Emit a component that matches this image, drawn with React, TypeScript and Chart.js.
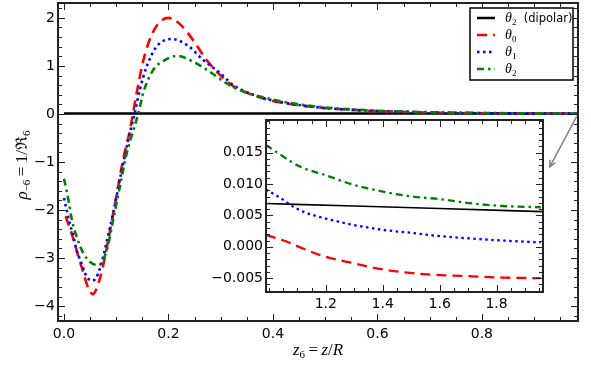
import React, { useEffect, useRef } from "react";
import { Chart, registerables } from "chart.js";
Chart.register(...registerables);

// ---------------- main panel data ----------------
const dipolarX = [0, 0.2, 0.4, 0.6, 0.8, 0.985];
const dipolarY = [0.01, 0.01, 0.009, 0.008, 0.008, 0.007];

const theta0X = [0.003, 0.015, 0.027, 0.037, 0.045, 0.055, 0.063, 0.075, 0.086, 0.098, 0.113, 0.126, 0.139, 0.152, 0.171, 0.2, 0.222, 0.247, 0.273, 0.299, 0.324, 0.36, 0.4, 0.45, 0.5, 0.55, 0.6, 0.7, 0.8, 0.9, 0.985];
const theta0Y = [-2.13, -2.5, -2.95, -3.3, -3.58, -3.75, -3.62, -3.15, -2.55, -1.85, -0.96, -0.35, 0.43, 1.12, 1.72, 2.0, 1.87, 1.54, 1.12, 0.81, 0.58, 0.4, 0.27, 0.18, 0.12, 0.085, 0.06, 0.03, 0.015, 0.008, 0.004];

const theta1X = [0.0, 0.005, 0.011, 0.018, 0.024, 0.034, 0.043, 0.055, 0.065, 0.075, 0.085, 0.094, 0.11, 0.126, 0.135, 0.145, 0.158, 0.177, 0.206, 0.235, 0.267, 0.299, 0.324, 0.36, 0.4, 0.45, 0.5, 0.55, 0.6, 0.7, 0.8, 0.9, 0.985];
const theta1Y = [-1.75, -2.0, -2.28, -2.55, -2.83, -3.12, -3.38, -3.47, -3.33, -2.97, -2.5, -2.07, -1.2, -0.4, 0.0, 0.5, 0.98, 1.4, 1.56, 1.44, 1.12, 0.85, 0.6, 0.41, 0.28, 0.185, 0.125, 0.088, 0.062, 0.032, 0.017, 0.01, 0.006];

const theta2X = [0.0, 0.005, 0.009, 0.015, 0.024, 0.037, 0.05, 0.066, 0.082, 0.094, 0.107, 0.12, 0.133, 0.142, 0.152, 0.171, 0.193, 0.216, 0.247, 0.279, 0.311, 0.34, 0.4, 0.45, 0.5, 0.55, 0.6, 0.7, 0.8, 0.9, 0.985];
const theta2Y = [-1.35, -1.6, -1.82, -2.2, -2.55, -2.9, -3.08, -3.15, -2.83, -2.21, -1.51, -0.82, -0.33, 0.0, 0.45, 0.92, 1.12, 1.21, 1.09, 0.88, 0.64, 0.48, 0.3, 0.2, 0.135, 0.095, 0.068, 0.036, 0.02, 0.013, 0.008];

const mainXTicks = [0, 0.2, 0.4, 0.6, 0.8];
const mainYTicks = [-4, -3, -2, -1, 0, 1, 2];
const mainXMinorStep = 0.05;
const mainYMinorStep = 0.2;
const mainXRange = [-0.0115, 0.984];
const mainYRange = [-4.31, 2.31];

// arrow pointing to the inset (data coordinates of main panel)
const arrowFrom = { x: 0.982, y: -0.04 };
const arrowTo = { x: 0.93, y: -1.1 };

// ---------------- inset data ----------------
const insetDipolarX = [0.99, 1.3, 1.6, 1.963];
const insetDipolarY = [0.0069, 0.0065, 0.0061, 0.0056];
const insetTheta0X = [0.99, 1.064, 1.132, 1.2, 1.296, 1.4, 1.505, 1.6, 1.716, 1.82, 1.955];
const insetTheta0Y = [0.0019, 0.0008, -0.0005, -0.0016, -0.0026, -0.0036, -0.0042, -0.0045, -0.0047, -0.0049, -0.005];
const insetTheta1X = [0.99, 1.044, 1.085, 1.132, 1.2, 1.296, 1.4, 1.505, 1.6, 1.716, 1.82, 1.955];
const insetTheta1Y = [0.0091, 0.0077, 0.0064, 0.0054, 0.0045, 0.0035, 0.0027, 0.0022, 0.0017, 0.0013, 0.001, 0.0007];
const insetTheta2X = [0.99, 1.109, 1.2, 1.296, 1.4, 1.505, 1.6, 1.716, 1.82, 1.955];
const insetTheta2Y = [0.0162, 0.0128, 0.0114, 0.0099, 0.0088, 0.008, 0.0076, 0.0069, 0.0065, 0.0063];

const insetXTicks = [1.2, 1.4, 1.6, 1.8];
const insetYTicks = [-0.005, 0, 0.005, 0.01, 0.015];
const insetXMinorStep = 0.05;
const insetYMinorStep = 0.001;
const insetXRange = [0.99, 1.963];
const insetYRange = [-0.0072, 0.0202];

// ---------------- legend ----------------
const legendSubs = ["2", "0", "1", "2"];
const legendExtra = ["  (dipolar)", "", "", ""];

// ---------------- styles ----------------
const FRAME = "#222";
const TICK_FONT = "DejaVu Sans";
const RED = "#ff0000";
const BLUE = "#0000ff";
const GREEN = "#008000";
const DASH_RED = [10, 6];
const DASH_BLUE = [2.5, 3.5];
const DASH_GREEN = [7, 4, 2.5, 4];

const pts = (xs: number[], ys: number[]) => xs.map((x, i) => ({ x, y: ys[i] }));
const minus = (s: string) => s.replace("-", "\u2212");

function lineDs(label: string, xs: number[], ys: number[], color: string, width: number, dash: number[], order: number) {
  return {
    label,
    data: pts(xs, ys),
    borderColor: color,
    backgroundColor: color,
    borderWidth: width,
    borderDash: dash,
    borderCapStyle: "butt",
    pointRadius: 0,
    fill: false,
    cubicInterpolationMode: "monotone",
    order,
  };
}

type Run = { t: string; font: string; dy?: number };
function drawRuns(ctx: CanvasRenderingContext2D, runs: Run[], x: number, y: number, align: "left" | "center") {
  const widths = runs.map((r) => {
    ctx.font = r.font;
    return ctx.measureText(r.t).width;
  });
  const total = widths.reduce((a, b) => a + b, 0);
  let cx = align === "center" ? x - total / 2 : x;
  ctx.textBaseline = "alphabetic";
  ctx.textAlign = "left";
  runs.forEach((r, i) => {
    ctx.font = r.font;
    ctx.fillText(r.t, cx, y + (r.dy || 0));
    cx += widths[i];
  });
}

function minors(min: number, max: number, step: number, majors: number[]) {
  const out: number[] = [];
  for (let k = Math.ceil(min / step - 1e-9); k * step <= max + 1e-9; k++) {
    const v = k * step;
    if (!majors.some((m) => Math.abs(m - v) < step * 0.01)) out.push(v);
  }
  return out;
}

function frameTicksPlugin(cfg: {
  xMajor: number[]; xStep: number; yMajor: number[]; yStep: number; fill: boolean; frameWidth: number;
}) {
  return {
    id: "frameTicks",
    beforeDraw(chart: any) {
      if (!cfg.fill) return;
      const { ctx, chartArea: a } = chart;
      ctx.save();
      ctx.fillStyle = "#fff";
      ctx.fillRect(a.left, a.top, a.right - a.left, a.bottom - a.top);
      ctx.restore();
    },
    afterDatasetsDraw(chart: any) {
      const { ctx, chartArea: a, scales } = chart;
      const xs = scales.x;
      const ys = scales.y;
      ctx.save();
      ctx.strokeStyle = FRAME;
      ctx.lineWidth = 1;
      const drawX = (vals: number[], len: number) => {
        vals.forEach((v) => {
          const p = Math.round(xs.getPixelForValue(v)) + 0.5;
          ctx.moveTo(p, a.bottom);
          ctx.lineTo(p, a.bottom - len);
          ctx.moveTo(p, a.top);
          ctx.lineTo(p, a.top + len);
        });
      };
      const drawY = (vals: number[], len: number) => {
        vals.forEach((v) => {
          const p = Math.round(ys.getPixelForValue(v)) + 0.5;
          ctx.moveTo(a.left, p);
          ctx.lineTo(a.left + len, p);
          ctx.moveTo(a.right, p);
          ctx.lineTo(a.right - len, p);
        });
      };
      ctx.beginPath();
      drawX(cfg.xMajor, 7);
      drawX(minors(xs.min, xs.max, cfg.xStep, cfg.xMajor), 4);
      drawY(cfg.yMajor, 7);
      drawY(minors(ys.min, ys.max, cfg.yStep, cfg.yMajor), 4);
      ctx.stroke();
      ctx.lineWidth = cfg.frameWidth;
      ctx.strokeRect(a.left, a.top, a.right - a.left, a.bottom - a.top);
      ctx.restore();
    },
  };
}

const mathIt = (s: number) => `italic ${s}px "Liberation Serif", "DejaVu Serif", serif`;
const mathRm = (s: number) => `${s}px "Liberation Serif", "DejaVu Serif", serif`;

const mainDecorPlugin = {
  id: "mainDecor",
  afterDraw(chart: any) {
    const { ctx, chartArea: a, scales } = chart;
    ctx.save();
    ctx.fillStyle = "#000";
    // x title
    drawRuns(
      ctx,
      [
        { t: "z", font: mathIt(17) },
        { t: "6", font: mathRm(11), dy: 3 },
        { t: "\u2009=\u2009", font: mathRm(17) },
        { t: "z", font: mathIt(17) },
        { t: "/", font: mathRm(17) },
        { t: "R", font: mathIt(17) },
      ],
      (a.left + a.right) / 2,
      a.bottom + 34,
      "center"
    );
    // y title (rotated)
    ctx.save();
    ctx.translate(22, (a.top + a.bottom) / 2 + 3);
    ctx.rotate(-Math.PI / 2);
    drawRuns(
      ctx,
      [
        { t: "\u03c1", font: mathIt(17) },
        { t: "\u22126", font: mathRm(11), dy: 3 },
        { t: "\u2009=\u2009", font: mathRm(17) },
        { t: "1/", font: mathRm(17) },
        { t: "\u211c", font: `16px "DejaVu Serif", serif` },
        { t: "6", font: mathRm(11), dy: 3 },
      ],
      0,
      5,
      "center"
    );
    ctx.restore();

    // arrow
    const x1 = scales.x.getPixelForValue(arrowFrom.x);
    const y1 = scales.y.getPixelForValue(arrowFrom.y);
    const x2 = scales.x.getPixelForValue(arrowTo.x);
    const y2 = scales.y.getPixelForValue(arrowTo.y);
    const ang = Math.atan2(y2 - y1, x2 - x1);
    ctx.strokeStyle = "#888";
    ctx.lineWidth = 1.6;
    ctx.beginPath();
    ctx.moveTo(x1, y1);
    ctx.lineTo(x2, y2);
    ctx.moveTo(x2 - 7 * Math.cos(ang - 0.45), y2 - 7 * Math.sin(ang - 0.45));
    ctx.lineTo(x2, y2);
    ctx.lineTo(x2 - 7 * Math.cos(ang + 0.45), y2 - 7 * Math.sin(ang + 0.45));
    ctx.stroke();

    // legend
    const bw = 103;
    const bh = 72;
    const bx = a.right - 5 - bw;
    const by = a.top + 5;
    ctx.fillStyle = "#fff";
    ctx.fillRect(bx, by, bw, bh);
    ctx.strokeStyle = "#000";
    ctx.lineWidth = 1.5;
    ctx.strokeRect(bx, by, bw, bh);
    const ds = chart.data.datasets;
    for (let i = 0; i < 4; i++) {
      const d = ds[i];
      const ry = by + 10 + i * 17;
      ctx.save();
      ctx.strokeStyle = d.borderColor;
      ctx.lineWidth = d.borderWidth;
      ctx.setLineDash(d.borderDash || []);
      ctx.beginPath();
      ctx.moveTo(bx + 7, ry);
      ctx.lineTo(bx + 25, ry);
      ctx.stroke();
      ctx.restore();
      ctx.fillStyle = "#000";
      drawRuns(
        ctx,
        [
          { t: "\u03b8", font: mathIt(14) },
          { t: legendSubs[i], font: mathRm(9), dy: 3 },
          { t: legendExtra[i], font: `11.5px "${TICK_FONT}"` },
        ],
        bx + 35,
        ry + 4,
        "left"
      );
    }
    ctx.restore();
  },
};

function axisCfg(range: number[], ticks: number[], fmt: (v: number) => string, size: number, padding: number, isX: boolean) {
  return {
    type: "linear",
    min: range[0],
    max: range[1],
    grid: { display: false, drawTicks: false },
    border: { display: false },
    ticks: {
      padding,
      color: "#000",
      autoSkip: false,
      maxRotation: 0,
      font: { family: TICK_FONT, size: 14 },
      callback: (v: number) => fmt(v),
    },
    afterBuildTicks: (s: any) => {
      s.ticks = ticks.map((value) => ({ value }));
    },
    afterFit: (s: any) => {
      if (isX) s.height = size;
      else s.width = size;
      s.paddingTop = 0;
      s.paddingBottom = 0;
      s.paddingLeft = 0;
      s.paddingRight = 0;
    },
  };
}

export default function App() {
  const mainRef = useRef<HTMLCanvasElement>(null);
  const insetRef = useRef<HTMLCanvasElement>(null);

  useEffect(() => {
    const main = new Chart(mainRef.current as HTMLCanvasElement, {
      type: "line",
      data: {
        datasets: [
          lineDs("θ2 (dipolar)", dipolarX, dipolarY, "#000", 2.5, [], 4),
          lineDs("θ0", theta0X, theta0Y, RED, 2.6, DASH_RED, 3),
          lineDs("θ1", theta1X, theta1Y, BLUE, 2.6, DASH_BLUE, 2),
          lineDs("θ2", theta2X, theta2Y, GREEN, 2.6, DASH_GREEN, 1),
        ] as any,
      },
      options: {
        animation: false,
        responsive: false,
        devicePixelRatio: 1,
        events: [],
        layout: { padding: { left: 0, top: 3, right: 13, bottom: 0 } },
        plugins: { legend: { display: false }, tooltip: { enabled: false } },
        scales: {
          x: axisCfg(mainXRange, mainXTicks, (v) => v.toFixed(1), 44, 5, true),
          y: axisCfg(mainYRange, mainYTicks, (v) => minus(String(v)), 58, 3, false),
        } as any,
      },
      plugins: [
        frameTicksPlugin({ xMajor: mainXTicks, xStep: mainXMinorStep, yMajor: mainYTicks, yStep: mainYMinorStep, fill: false, frameWidth: 2 }),
        mainDecorPlugin,
      ],
    } as any);

    const inset = new Chart(insetRef.current as HTMLCanvasElement, {
      type: "line",
      data: {
        datasets: [
          lineDs("θ2 (dipolar)", insetDipolarX, insetDipolarY, "#000", 1.6, [], 4),
          lineDs("θ0", insetTheta0X, insetTheta0Y, RED, 2.3, DASH_RED, 3),
          lineDs("θ1", insetTheta1X, insetTheta1Y, BLUE, 2.3, DASH_BLUE, 2),
          lineDs("θ2", insetTheta2X, insetTheta2Y, GREEN, 2.3, DASH_GREEN, 1),
        ] as any,
      },
      options: {
        animation: false,
        responsive: false,
        devicePixelRatio: 1,
        events: [],
        layout: { padding: { left: 0, top: 10, right: 17, bottom: 0 } },
        plugins: { legend: { display: false }, tooltip: { enabled: false } },
        scales: {
          x: axisCfg(insetXRange, insetXTicks, (v) => v.toFixed(1), 28, 4, true),
          y: axisCfg(insetYRange, insetYTicks, (v) => minus(v.toFixed(3)), 66, 3, false),
        } as any,
      },
      plugins: [
        frameTicksPlugin({ xMajor: insetXTicks, xStep: insetXMinorStep, yMajor: insetYTicks, yStep: insetYMinorStep, fill: true, frameWidth: 2 }),
      ],
    } as any);

    return () => {
      main.destroy();
      inset.destroy();
    };
  }, []);

  return (
    <div style={{ position: "absolute", left: 0, top: 0, width: 591, height: 365, background: "#fff" }}>
      <canvas
        ref={mainRef}
        width={591}
        height={365}
        style={{ position: "absolute", left: 0, top: 0, width: 591, height: 365 }}
      />
      <canvas
        ref={insetRef}
        width={360}
        height={210}
        style={{ position: "absolute", left: 200, top: 110, width: 360, height: 210 }}
      />
    </div>
  );
}
